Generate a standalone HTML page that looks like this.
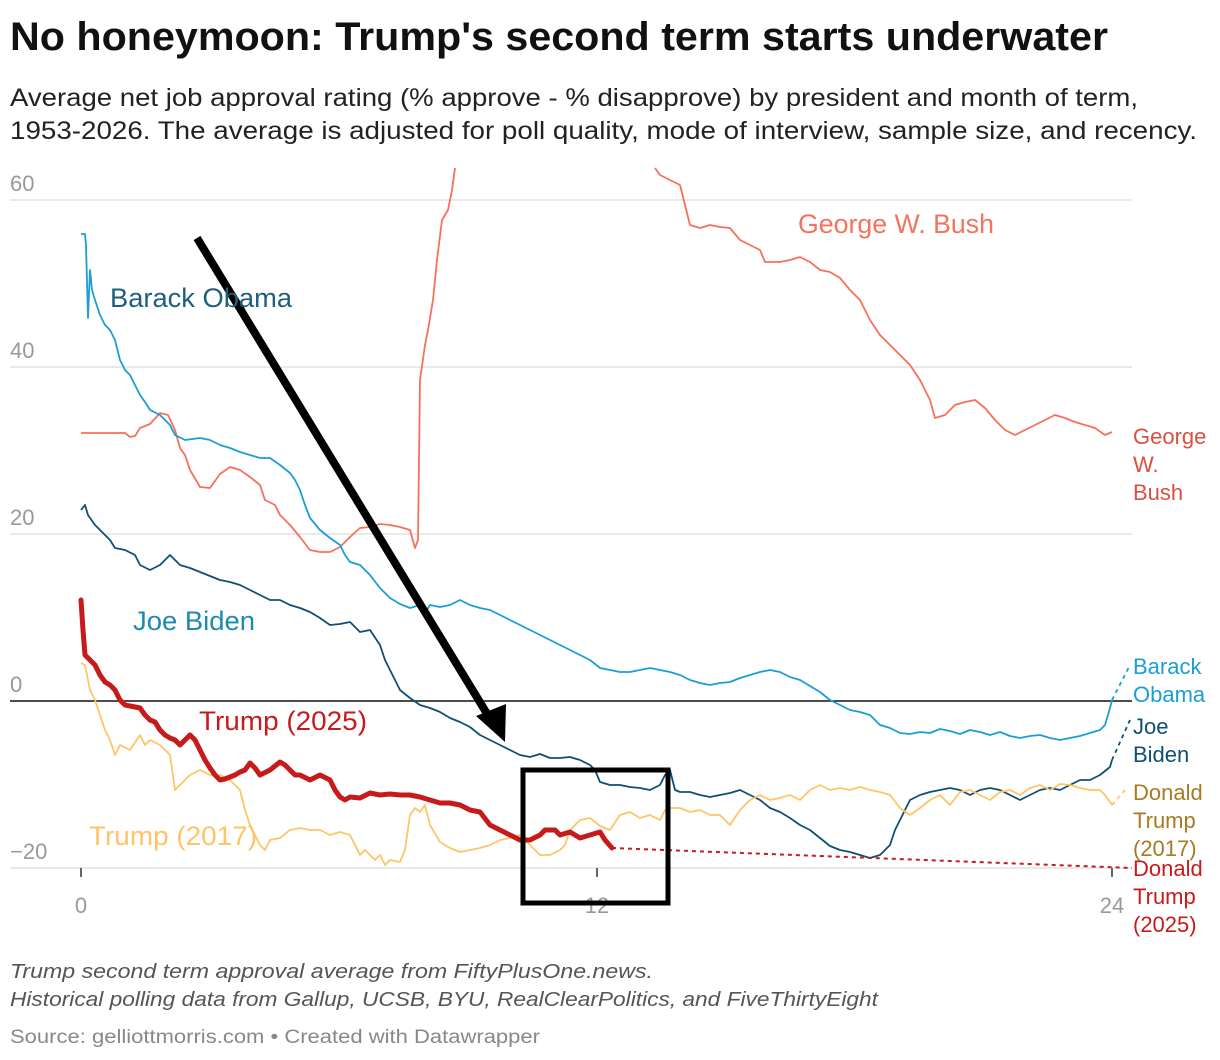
<!DOCTYPE html>
<html><head><meta charset="utf-8"><style>
html,body{margin:0;padding:0;background:#fff}
svg{display:block;font-family:"Liberation Sans",sans-serif}
</style></head><body>
<svg width="1220" height="1060" viewBox="0 0 1220 1060" xmlns="http://www.w3.org/2000/svg">
<text x="10" y="50" font-size="40" font-weight="bold" fill="#111" textLength="1098" lengthAdjust="spacingAndGlyphs">No honeymoon: Trump's second term starts underwater</text>
<text x="10" y="106" font-size="25" fill="#222" textLength="1128" lengthAdjust="spacingAndGlyphs">Average net job approval rating (% approve - % disapprove) by president and month of term,</text>
<text x="10" y="139" font-size="25" fill="#222" textLength="1187" lengthAdjust="spacingAndGlyphs">1953-2026. The average is adjusted for poll quality, mode of interview, sample size, and recency.</text>
<g stroke="#e2e2e2" stroke-width="1.5">
<line x1="10" y1="200" x2="1132" y2="200"/><line x1="10" y1="367" x2="1132" y2="367"/><line x1="10" y1="534" x2="1132" y2="534"/><line x1="10" y1="868" x2="1132" y2="868"/>
</g>
<line x1="10" y1="701" x2="1132" y2="701" stroke="#111" stroke-width="1.5"/>
<g font-size="22" fill="#999">
<text x="10" y="191">60</text><text x="10" y="358">40</text><text x="10" y="525">20</text><text x="10" y="692">0</text><text x="10" y="859">−20</text>
<text x="81" y="913" text-anchor="middle">0</text><text x="597" y="913" text-anchor="middle">12</text><text x="1112" y="913" text-anchor="middle">24</text>
</g>
<g stroke="#333" stroke-width="1.5"><line x1="81" y1="868" x2="81" y2="877"/><line x1="597" y1="868" x2="597" y2="877"/><line x1="1112" y1="868" x2="1112" y2="877"/></g>
<g fill="none" stroke-linejoin="round">
<polyline stroke="#f7705a" stroke-width="1.8" points="81,433 125,433 130,437 135,436 140,428 150,424 160,413 168,415 175,430 180,448 185,455 190,470 200,487 210,488 220,474 230,467 240,470 250,477 260,485 265,500 275,505 280,515 290,525 300,537 310,550 320,552 330,552 340,547 350,537 360,528 370,527 380,524 390,525 400,527 410,530 415,548 418,540 420,380 425,345 428,330 433,300 437,260 442,220 448,210 452,190 455,168"/>
<polyline stroke="#f7705a" stroke-width="1.8" points="655,168 660,175 670,180 680,185 685,205 690,225 700,228 710,225 720,227 730,228 740,240 750,245 760,250 765,262 780,262 790,260 800,257 810,262 820,270 830,272 840,278 850,290 860,300 870,320 880,335 890,345 900,355 910,365 920,380 930,400 935,418 945,415 955,405 965,402 975,400 985,408 995,420 1005,430 1015,435 1025,430 1035,425 1045,420 1055,415 1065,418 1075,422 1085,425 1095,428 1105,435 1112,432"/>
<polyline stroke="#1a9ed4" stroke-width="1.8" points="81,234 85,234 86,245 88,318 90,270 92,290 95,300 100,315 105,325 110,330 115,340 120,360 125,370 130,375 135,385 140,395 145,402 150,410 160,415 170,425 175,435 185,440 200,438 210,440 220,445 230,448 240,452 250,455 260,458 270,458 280,465 290,473 295,480 300,490 305,505 310,518 320,530 330,538 340,545 345,555 350,562 360,565 370,575 380,588 390,598 400,604 410,608 420,605 425,613 430,605 440,607 450,605 460,600 470,605 480,608 490,610 500,615 510,620 520,625 530,630 540,635 550,640 560,645 570,650 580,655 590,660 600,668 610,670 620,672 630,672 640,670 650,668 660,670 670,672 680,675 690,680 700,683 710,685 720,683 730,682 740,678 750,675 760,672 770,670 780,672 790,677 800,680 810,686 820,692 830,700 840,705 850,710 860,712 870,715 880,725 890,728 900,733 910,734 920,732 930,733 940,729 950,731 960,734 970,730 980,732 990,735 1000,732 1010,736 1020,738 1030,736 1040,735 1050,738 1060,740 1070,738 1080,736 1090,733 1100,730 1105,725 1110,708 1112,700"/>
<polyline stroke="#1a9ed4" stroke-width="1.8" stroke-dasharray="4,4" points="1112,700 1130,665"/>
<polyline stroke="#0f4f74" stroke-width="1.8" points="81,510 85,505 88,515 95,525 100,530 110,540 115,548 125,550 135,555 140,565 150,570 160,565 170,555 180,565 190,568 200,572 210,576 220,580 230,582 240,585 250,590 260,595 270,600 280,600 290,605 300,608 310,612 320,618 330,625 340,624 350,622 360,632 370,630 380,645 385,660 390,670 395,680 400,690 410,698 420,705 430,708 440,712 450,718 460,722 470,727 480,735 490,740 500,745 510,750 520,755 530,757 540,754 550,758 560,758 570,757 580,760 590,765 595,770 600,782 610,785 620,785 630,787 640,788 650,790 660,785 665,775 670,770 675,790 680,792 690,792 700,795 710,797 720,795 730,793 740,790 750,795 760,800 770,808 780,812 790,818 800,825 810,830 820,838 830,846 840,850 850,852 860,855 870,858 880,855 890,845 895,830 900,820 905,810 910,800 920,795 930,792 940,790 950,788 960,790 970,795 980,790 990,788 1000,790 1010,795 1020,800 1030,795 1040,790 1050,788 1060,790 1070,785 1080,780 1090,780 1100,775 1110,767 1112,760"/>
<polyline stroke="#0f4f74" stroke-width="1.8" stroke-dasharray="4,4" points="1112,760 1130,720"/>
<polyline stroke="#ffc466" stroke-width="1.8" points="81,663 85,665 90,690 95,700 100,715 105,730 110,740 115,755 120,745 130,750 140,735 145,745 150,740 160,745 170,755 175,790 180,785 190,775 200,770 210,775 220,775 230,780 240,790 245,810 250,825 255,835 260,845 265,850 270,840 280,838 290,830 300,828 310,830 320,830 330,835 340,832 350,835 355,845 360,855 365,850 375,860 380,855 385,865 390,860 400,862 405,850 410,815 415,808 420,812 425,805 430,825 440,842 450,848 460,852 470,850 480,848 490,845 500,840 510,838 520,835 530,845 540,855 550,855 560,850 565,845 570,830 580,820 590,818 600,826 610,830 620,815 630,812 640,818 650,815 660,820 665,810 670,808 680,808 690,812 700,810 710,815 720,815 730,825 740,810 750,800 760,795 770,800 780,798 790,795 800,800 810,790 820,785 830,790 840,788 850,790 860,787 870,790 880,792 890,795 900,808 910,815 920,808 930,800 940,795 950,805 960,792 970,790 980,795 990,800 1000,792 1010,790 1020,795 1030,788 1040,785 1050,790 1060,784 1070,785 1080,788 1090,790 1100,790 1105,795 1112,805"/>
<polyline stroke="#ffc466" stroke-width="1.8" stroke-dasharray="4,4" points="1112,805 1125,790"/>
<polyline stroke="#c71a1a" stroke-width="2" stroke-dasharray="4,4" points="612,848 1132,868"/>
<polyline stroke="#c71a1a" stroke-width="5" stroke-linecap="round" points="81,600 83,630 85,655 90,660 95,665 100,675 105,682 110,685 115,690 120,700 125,705 130,706 140,708 145,715 150,720 155,722 160,730 165,735 170,738 175,740 180,745 190,735 195,740 200,750 205,760 210,768 215,775 220,780 225,779 235,775 240,772 245,770 250,763 255,768 260,775 270,770 280,762 285,765 290,770 295,775 300,775 310,780 320,775 330,780 335,790 340,797 345,800 350,797 360,798 370,793 380,795 390,794 400,795 410,795 420,797 430,800 440,803 450,803 460,805 470,810 480,812 490,825 500,830 510,835 520,840 530,840 540,835 545,830 555,830 560,835 570,832 580,838 590,835 600,832 605,840 612,848"/>
</g>
<line x1="197" y1="238" x2="492" y2="722" stroke="#000" stroke-width="8"/>
<polygon points="476,716 505,742 506,704" fill="#000"/>
<rect x="523" y="770" width="145" height="133" fill="none" stroke="#000" stroke-width="5"/>
<g font-size="27">
<text x="798" y="233" fill="#f4735d" textLength="196" lengthAdjust="spacingAndGlyphs">George W. Bush</text>
<text x="110" y="307" fill="#1d5f7e" textLength="182" lengthAdjust="spacingAndGlyphs">Barack Obama</text>
<text x="133" y="630" fill="#1f8ab0" textLength="122" lengthAdjust="spacingAndGlyphs">Joe Biden</text>
<text x="199" y="730" fill="#c71a1a" textLength="168" lengthAdjust="spacingAndGlyphs">Trump (2025)</text>
<text x="89" y="845" fill="#ffc466" textLength="168" lengthAdjust="spacingAndGlyphs">Trump (2017)</text>
</g>
<g font-size="22">
<text x="1133" y="444" fill="#d9503e">George</text><text x="1133" y="472" fill="#d9503e">W.</text><text x="1133" y="500" fill="#d9503e">Bush</text>
<text x="1133" y="674" fill="#1a9ed4">Barack</text><text x="1133" y="702" fill="#1a9ed4">Obama</text>
<text x="1133" y="734" fill="#0f4f74">Joe</text><text x="1133" y="762" fill="#0f4f74">Biden</text>
<text x="1133" y="800" fill="#a87a23">Donald</text><text x="1133" y="828" fill="#a87a23">Trump</text><text x="1133" y="856" fill="#a87a23">(2017)</text>
<text x="1133" y="876" fill="#c71a1a">Donald</text><text x="1133" y="904" fill="#c71a1a">Trump</text><text x="1133" y="932" fill="#c71a1a">(2025)</text>
</g>
<text x="10" y="978" font-size="20" font-style="italic" fill="#555" textLength="643" lengthAdjust="spacingAndGlyphs">Trump second term approval average from FiftyPlusOne.news.</text>
<text x="10" y="1006" font-size="20" font-style="italic" fill="#555" textLength="868" lengthAdjust="spacingAndGlyphs">Historical polling data from Gallup, UCSB, BYU, RealClearPolitics, and FiveThirtyEight</text>
<text x="10" y="1043" font-size="19" fill="#888" textLength="530" lengthAdjust="spacingAndGlyphs">Source: gelliottmorris.com • Created with Datawrapper</text>
</svg>
</body></html>
